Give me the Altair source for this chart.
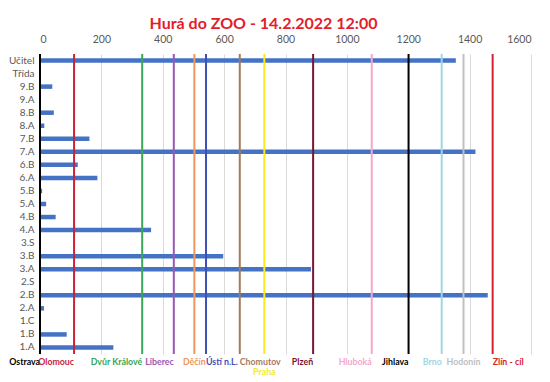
import altair as alt
import pandas as pd

classes = ["Učitel", "Třída", "9.B", "9.A", "8.B", "8.A", "7.B", "7.A", "6.B", "6.A",
           "5.B", "5.A", "4.B", "4.A", "3.S", "3.B", "3.A", "2.S", "2.B", "2.A",
           "1.C", "1.B", "1.A"]
km = [1355, 0, 40, 0, 45, 14, 161, 1419, 123, 187,
      7, 20, 51, 362, 0, 597, 883, 0, 1459, 13,
      0, 87, 239]

cities = ["Ostrava", "Olomouc", "Dvůr Králové", "Liberec", "Děčín", "Ústí n.L.",
          "Chomutov", "Praha", "Plzeň", "Hluboká", "Jihlava", "Brno", "Hodonín", "Zlín - cíl"]
city_km = [0, 111, 333, 436, 503, 541, 651, 731, 890, 1081, 1201, 1309, 1380, 1475]
city_colors = ["#000000", "#C8233A", "#3AA65A", "#9A57B4", "#F0975A", "#3F4FB8",
               "#A27B5E", "#F5EB1E", "#7A1432", "#F2A9C9", "#000000", "#9FD6E6",
               "#C0C0C0", "#D52230"]
label_group = ["r", "r", "r", "r", "c", "l", "l", "p", "r", "r", "r", "r", "c", "l"]

ticks = [0, 200, 400, 600, 800, 1000, 1200, 1400, 1600]

bars_df = pd.DataFrame({"cls": classes, "km": km})
city_df = pd.DataFrame({"city": cities, "km": city_km, "grp": label_group})

FONT = "Lato"
W, H = 491, 300

xscale = alt.Scale(domain=[0, 1600], nice=False)
color_scale = alt.Scale(domain=cities, range=city_colors)

bars = alt.Chart(bars_df).mark_bar(color="#4472C4", size=4.5).encode(
    x=alt.X("km:Q", scale=xscale,
            axis=alt.Axis(orient="top", values=ticks, format="d", title=None, domain=False,
                          ticks=False, labelColor="#595959", labelFont=FONT, labelFontSize=10.5,
                          labelPadding=10, grid=True, gridColor="#D9D9D9", gridWidth=1)),
    y=alt.Y("cls:N", sort=classes,
            axis=alt.Axis(title=None, domain=False, ticks=False, labelColor="#595959",
                          labelFont=FONT, labelFontSize=10, labelPadding=6, grid=False)),
)

rules = alt.Chart(city_df).mark_rule(strokeWidth=2).encode(
    x=alt.X("km:Q", scale=xscale),
    color=alt.Color("city:N", scale=color_scale, legend=None),
)

def labels(grp, align, dy):
    return alt.Chart(city_df).transform_filter(
        alt.datum.grp == grp
    ).mark_text(align=align, baseline="middle", font=FONT, fontSize=8.8,
                fontWeight="bold", dy=dy).encode(
        x=alt.X("km:Q", scale=xscale),
        y=alt.value(H + 8),
        text="city:N",
        color=alt.Color("city:N", scale=color_scale, legend=None),
    )

chart = alt.layer(
    bars, rules,
    labels("c", "center", 0), labels("r", "right", 0),
    labels("l", "left", 0), labels("p", "center", 10),
).properties(
    width=W, height=H,
    title=alt.TitleParams("Hurá do ZOO - 14.2.2022 12:00", color="#E3202A", font=FONT,
                          fontSize=16, fontWeight="bold", anchor="middle", dx=-22, offset=2),
    autosize=alt.AutoSizeParams(type="none"),
    padding={"left": 32, "top": 46, "right": 11, "bottom": 22},
).configure_view(stroke=None)

chart.save("out.html", embed_options={"renderer": "svg", "actions": False})
